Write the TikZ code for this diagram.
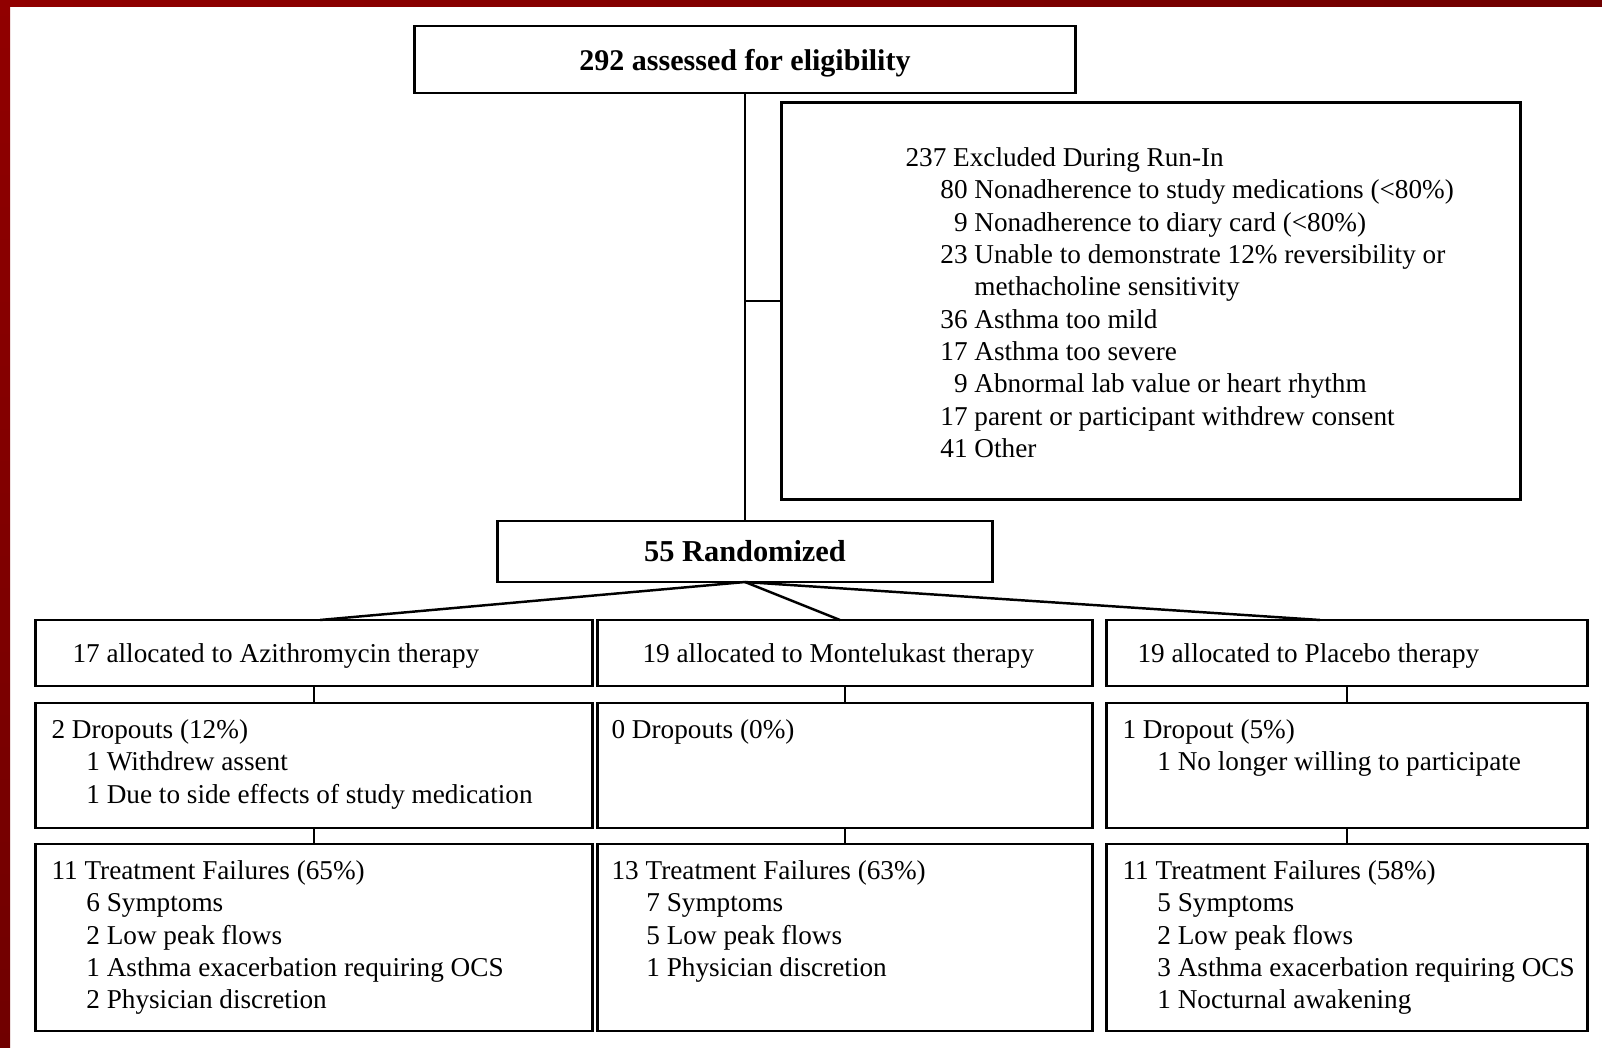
\documentclass[tikz,border=0pt]{standalone}
\usepackage{fontspec}
\setmainfont{Liberation Serif}
\definecolor{frameRed}{RGB}{145,0,0}
\definecolor{frameDark}{RGB}{112,0,0}
\newcommand{\subln}{\hspace*{1.28em}}

\begin{document}
\begin{tikzpicture}[x=0.01cm, y=-0.01cm,
  box/.style={draw, line width=0.8pt, inner sep=0pt, outer sep=0pt},
  txt/.style={anchor=north west, align=left, inner sep=0pt, font=\fontsize{7.74}{9.19}\selectfont},
  link/.style={line width=0.7pt}]
\useasboundingbox (0,0) rectangle (1602,1048);
\fill[white] (0,0) rectangle (1602,1048);
\shade[top color=frameRed, bottom color=frameDark] (0,0) rectangle (10,1048);
\shade[left color=frameRed, right color=frameDark] (0,0) rectangle (1602,6);

\node[box, minimum width=6.61cm, minimum height=0.67cm, text depth=0pt, font=\bfseries\fontsize{8.54}{10}\selectfont] (assess) at (745,59.5) {292 assessed for eligibility};
\node[box, minimum width=7.38cm, minimum height=3.96cm] (excl) at (1151,301) {};
\node[txt] (exclText) at ([xshift=1.23cm, yshift=-0.44cm]excl.north west) {237 Excluded During Run-In\\
\subln 80 Nonadherence to study medications (<80\%)\\
\subln \phantom{0}9 Nonadherence to diary card (<80\%)\\
\subln 23 Unable to demonstrate 12\% reversibility or\\
\subln \phantom{23 }methacholine sensitivity\\
\subln 36 Asthma too mild\\
\subln 17 Asthma too severe\\
\subln \phantom{0}9 Abnormal lab value or heart rhythm\\
\subln 17 parent or participant withdrew consent\\
\subln 41 Other};
\node[box, minimum width=4.95cm, minimum height=0.61cm, font=\bfseries\fontsize{8.64}{10}\selectfont] (rand) at (745,551.5) {55 Randomized};

\node[box, minimum width=5.56cm, minimum height=0.66cm] (azi) at (314,653) {};
\node[box, minimum width=4.94cm, minimum height=0.66cm] (mon) at (845,653) {};
\node[box, minimum width=4.80cm, minimum height=0.66cm] (pla) at (1347,653) {};
\node[txt, anchor=base west] (aziText) at ([xshift=0.36cm, yshift=-0.09cm]azi.west) {17 allocated to Azithromycin therapy};
\node[txt, anchor=base west] (monText) at ([xshift=0.44cm, yshift=-0.09cm]mon.west) {19 allocated to Montelukast therapy};
\node[txt, anchor=base west] (plaText) at ([xshift=0.30cm, yshift=-0.09cm]pla.west) {19 allocated to Placebo therapy};

\node[box, minimum width=5.56cm, minimum height=1.25cm] (aziDrop) at (314,765.5) {};
\node[box, minimum width=4.94cm, minimum height=1.25cm] (monDrop) at (845,765.5) {};
\node[box, minimum width=4.80cm, minimum height=1.25cm] (plaDrop) at (1347,765.5) {};
\node[txt] (aziDropText) at ([xshift=0.15cm, yshift=-0.16cm]aziDrop.north west) {2 Dropouts (12\%)\\
\subln 1 Withdrew assent\\
\subln 1 Due to side effects of study medication};
\node[txt] (monDropText) at ([xshift=0.13cm, yshift=-0.16cm]monDrop.north west) {0 Dropouts (0\%)};
\node[txt] (plaDropText) at ([xshift=0.15cm, yshift=-0.16cm]plaDrop.north west) {1 Dropout (5\%)\\
\subln 1 No longer willing to participate};

\node[box, minimum width=5.56cm, minimum height=1.87cm] (aziFail) at (314,937.5) {};
\node[box, minimum width=4.94cm, minimum height=1.87cm] (monFail) at (845,937.5) {};
\node[box, minimum width=4.80cm, minimum height=1.87cm] (plaFail) at (1347,937.5) {};
\node[txt] (aziFailText) at ([xshift=0.15cm, yshift=-0.16cm]aziFail.north west) {11 Treatment Failures (65\%)\\
\subln 6 Symptoms\\
\subln 2 Low peak flows\\
\subln 1 Asthma exacerbation requiring OCS\\
\subln 2 Physician discretion};
\node[txt] (monFailText) at ([xshift=0.13cm, yshift=-0.16cm]monFail.north west) {13 Treatment Failures (63\%)\\
\subln 7 Symptoms\\
\subln 5 Low peak flows\\
\subln 1 Physician discretion};
\node[txt] (plaFailText) at ([xshift=0.15cm, yshift=-0.16cm]plaFail.north west) {11 Treatment Failures (58\%)\\
\subln 5 Symptoms\\
\subln 2 Low peak flows\\
\subln 3 Asthma exacerbation requiring OCS\\
\subln 1 Nocturnal awakening};

\draw[link] (assess.south) -- (rand.north);
\draw[link] (assess.south |- excl.west) -- (excl.west);
\draw[link] (rand.south) -- ([xshift=0.06cm]azi.north);
\draw[link] (rand.south) -- ([xshift=-0.05cm]mon.north);
\draw[link] (rand.south) -- ([xshift=-0.27cm]pla.north);
\draw[link] (azi.south) -- (aziDrop.north);
\draw[link] (mon.south) -- (monDrop.north);
\draw[link] (pla.south) -- (plaDrop.north);
\draw[link] (aziDrop.south) -- (aziFail.north);
\draw[link] (monDrop.south) -- (monFail.north);
\draw[link] (plaDrop.south) -- (plaFail.north);
\end{tikzpicture}
\end{document}
